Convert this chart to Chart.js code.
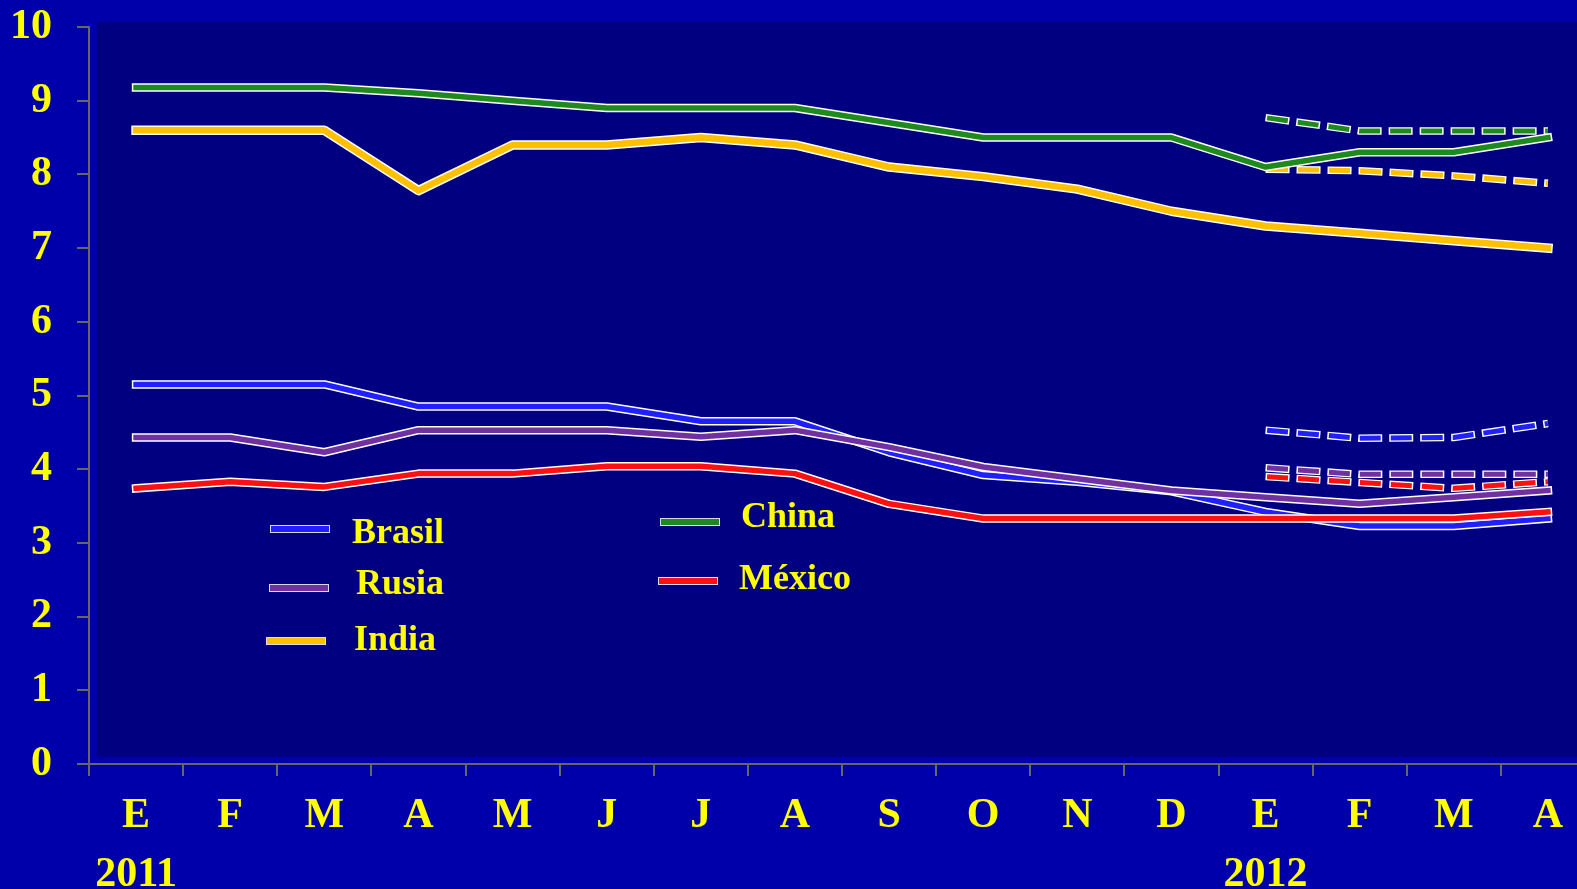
<!DOCTYPE html>
<html>
<head>
<meta charset="utf-8">
<script src="https://cdn.jsdelivr.net/npm/chart.js@4/dist/chart.umd.min.js"></script>
<style>
  html, body { margin: 0; padding: 0; overflow: hidden; background: #0000aa; width: 1577px; height: 889px; }
  #wrap { position: absolute; left: 0; top: 0; width: 1610px; height: 889px; }
</style>
</head>
<body>
<div id="wrap"><canvas id="c" width="1610" height="889" style="width:1610px;height:889px"></canvas></div>
<script>
// Month initials, Jan 2011 .. Apr 2012
const months = ['E','F','M','A','M','J','J','A','S','O','N','D','E','F','M','A'];
const years = ['2011', '2012'];

// Observed series (%)
const brasil = [5.15, 5.15, 5.15, 4.85, 4.85, 4.85, 4.65, 4.65, 4.23, 3.92, 3.83, 3.70, 3.42, 3.23, 3.23, 3.33];
const rusia  = [4.43, 4.43, 4.23, 4.53, 4.53, 4.53, 4.44, 4.53, 4.30, 4.03, 3.87, 3.71, 3.62, 3.53, 3.62, 3.71];
const india  = [8.6, 8.6, 8.6, 7.78, 8.4, 8.4, 8.5, 8.4, 8.1, 7.97, 7.8, 7.5, 7.3, 7.2, 7.1, 7.0];
const china  = [9.18, 9.18, 9.18, 9.1, 9.0, 8.9, 8.9, 8.9, 8.7, 8.5, 8.5, 8.5, 8.1, 8.3, 8.3, 8.5];
const mexico = [3.74, 3.83, 3.76, 3.94, 3.94, 4.04, 4.04, 3.94, 3.53, 3.33, 3.33, 3.33, 3.33, 3.33, 3.33, 3.42];

// Projections for Jan..Apr 2012
const brasilProj = [4.53, 4.42, 4.43, 4.62];
const rusiaProj  = [4.02, 3.93, 3.93, 3.93];
const indiaProj  = [8.07, 8.05, 7.98, 7.88];
const chinaProj  = [8.77, 8.59, 8.59, 8.59];
const mexicoProj = [3.90, 3.82, 3.74, 3.83];

const labels = months.map((m, i) => (i % 12 === 0 ? [m, years[i / 12]] : m));
const projStart = months.length - brasilProj.length;
const pad = (arr) => Array(projStart).fill(null).concat(arr);

const SERIES = [
  { name: 'China',  color: '#1e8a1e', values: china,  proj: chinaProj,  width: 5.5 },
  { name: 'India',  color: '#ffc000', values: india,  proj: indiaProj,  width: 6.5 },
  { name: 'México', color: '#ff1010', values: mexico, proj: mexicoProj, width: 5.5 },
  { name: 'Rusia',  color: '#7030a0', values: rusia,  proj: rusiaProj,  width: 5.5 },
  { name: 'Brasil', color: '#2020ff', values: brasil, proj: brasilProj, width: 5.5 }
];

const datasets = [];
SERIES.forEach(s => {
  datasets.push({
    label: s.name, data: s.values, borderColor: s.color, borderWidth: s.width,
    borderCapStyle: 'square', borderJoinStyle: 'round', tension: 0, pointRadius: 0,
    haloWidth: s.width + 3
  });
  datasets.push({
    label: s.name + ' (proy.)', data: pad(s.proj), borderColor: s.color, borderWidth: 5,
    borderCapStyle: 'butt', borderJoinStyle: 'round', tension: 0, pointRadius: 0,
    borderDash: [21, 10], borderDashOffset: -1.5,
    haloWidth: 7.5, haloDash: [24, 7]
  });
});

// White outline drawn under each line
const haloPlugin = {
  id: 'halo',
  beforeDatasetDraw(chart, args) {
    const ds = chart.data.datasets[args.index];
    const ctx = chart.ctx;
    const a = chart.chartArea;
    ctx.save();
    ctx.beginPath();
    ctx.rect(a.left, a.top - 10, a.right - a.left, a.bottom - a.top + 20);
    ctx.clip();
    ctx.beginPath();
    let started = false;
    args.meta.data.forEach(p => {
      if (p.skip) { started = false; return; }
      if (!started) { ctx.moveTo(p.x, p.y); started = true; } else { ctx.lineTo(p.x, p.y); }
    });
    ctx.lineWidth = ds.haloWidth;
    ctx.strokeStyle = '#ffffff';
    ctx.lineJoin = 'round';
    ctx.lineCap = ds.borderCapStyle;
    ctx.setLineDash(ds.haloDash || []);
    ctx.stroke();
    ctx.restore();
  }
};

// Page background and the darker plotting panel
const panelPlugin = {
  id: 'panel',
  beforeDraw(chart) {
    const ctx = chart.ctx;
    const a = chart.chartArea;
    ctx.save();
    ctx.fillStyle = '#0000aa';
    ctx.fillRect(0, 0, chart.width, chart.height);
    ctx.fillStyle = '#000080';
    ctx.fillRect(a.left + 8, a.top - 5, chart.width, a.bottom - 7 - (a.top - 5));
    ctx.restore();
  }
};

// Two-column legend placed inside the panel
const legendItems = [
  { name: 'Brasil', x: 270, y: 529, tx: 352, ty: 543 },
  { name: 'Rusia',  x: 269, y: 588, tx: 356, ty: 594 },
  { name: 'India',  x: 266, y: 641, tx: 354, ty: 650 },
  { name: 'China',  x: 660, y: 522, tx: 741, ty: 527 },
  { name: 'México', x: 658, y: 581, tx: 739, ty: 589 }
];
const boxLegendPlugin = {
  id: 'boxLegend',
  afterDatasetsDraw(chart) {
    const ctx = chart.ctx;
    ctx.save();
    legendItems.forEach(it => {
      const ds = chart.data.datasets.find(d => d.label === it.name);
      ctx.fillStyle = '#d8d8ff';
      ctx.fillRect(it.x, it.y - 4, 60, 8);
      ctx.fillStyle = ds.borderColor;
      ctx.fillRect(it.x + 1, it.y - 3, 58, 6);
      ctx.fillStyle = '#ffff00';
      ctx.font = 'bold 36px "Liberation Serif"';
      ctx.textBaseline = 'alphabetic';
      ctx.textAlign = 'left';
      ctx.fillText(ds.label, it.tx, it.ty);
    });
    ctx.restore();
  }
};

const tickFont = { family: '"Liberation Serif"', weight: 'bold', size: 42, lineHeight: 1.4 };

new Chart(document.getElementById('c'), {
  type: 'line',
  data: { labels, datasets },
  plugins: [panelPlugin, haloPlugin, boxLegendPlugin],
  options: {
    responsive: false,
    animation: false,
    devicePixelRatio: 1,
    layout: { padding: { top: 27, right: 15, left: 0, bottom: 0 } },
    plugins: { legend: { display: false }, tooltip: { enabled: false } },
    scales: {
      x: {
        type: 'category',
        offset: true,
        grid: { offset: true, drawOnChartArea: false, color: '#666666', lineWidth: 2, tickLength: 12 },
        border: { color: '#666666', width: 2 },
        ticks: { color: '#ffff00', font: tickFont, padding: 11, maxRotation: 0, autoSkip: false },
        afterFit(s) { s.height = 125; s.paddingLeft = 0; s.paddingRight = 0; }
      },
      y: {
        min: 0, max: 10,
        grid: { drawOnChartArea: false, color: '#666666', lineWidth: 2, tickLength: 12 },
        border: { color: '#666666', width: 2 },
        ticks: { stepSize: 1, color: '#ffff00', font: tickFont, padding: 25 },
        afterFit(s) { s.width = 89; s.paddingTop = 0; s.paddingBottom = 0; }
      }
    }
  }
});
</script>
</body>
</html>
